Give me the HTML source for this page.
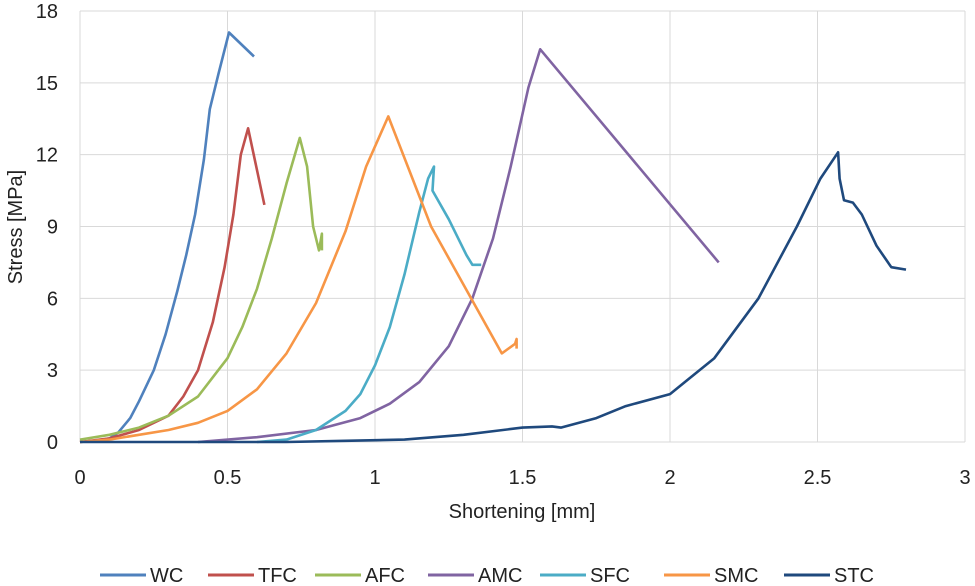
<!DOCTYPE html>
<html><head><meta charset="utf-8"><style>
body{margin:0;background:#fff;}
svg{display:block;font-family:"Liberation Sans",sans-serif;}
</style></head><body>
<svg id="chart" width="975" height="586" viewBox="0 0 975 586">
<g id="grid"></g><g id="series"></g><g id="ticks"></g><g id="legend"></g>
<text x="522" y="518" text-anchor="middle" font-size="20" fill="#222">Shortening [mm]</text>
<text transform="translate(22,227) rotate(-90)" text-anchor="middle" font-size="20" fill="#222">Stress [MPa]</text>
</svg>
<script>
const xTicks=[0,0.5,1,1.5,2,2.5,3];
const xTickLabels=["0","0.5","1","1.5","2","2.5","3"];
const yTicks=[0,3,6,9,12,15,18];
const seriesNames=["WC","TFC","AFC","AMC","SFC","SMC","STC"];
const seriesColors=["#4F81BD","#C0504D","#9BBB59","#8064A2","#4BACC6","#F79646","#1F497D"];
const WC=[[0,0],[0.05,0.05],[0.1,0.15],[0.13,0.4],[0.17,1],[0.2,1.7],[0.25,3],[0.29,4.5],[0.33,6.3],[0.36,7.8],[0.39,9.5],[0.42,11.8],[0.44,13.9],[0.47,15.4],[0.505,17.1],[0.59,16.1]];
const TFC=[[0,0],[0.1,0.15],[0.2,0.5],[0.3,1.1],[0.35,1.9],[0.4,3],[0.45,5],[0.49,7.3],[0.52,9.5],[0.545,12],[0.57,13.1],[0.625,9.9]];
const AFC=[[0,0.1],[0.1,0.3],[0.2,0.6],[0.3,1.1],[0.4,1.9],[0.5,3.5],[0.55,4.8],[0.6,6.4],[0.65,8.5],[0.7,10.8],[0.745,12.7],[0.77,11.5],[0.79,9],[0.81,8],[0.82,8.7],[0.82,8]];
const AMC=[[0.4,0],[0.6,0.2],[0.8,0.5],[0.95,1],[1.05,1.6],[1.15,2.5],[1.25,4],[1.33,6],[1.4,8.5],[1.46,11.5],[1.52,14.8],[1.56,16.4],[2.165,7.5]];
const SFC=[[0.6,0],[0.7,0.1],[0.8,0.5],[0.9,1.3],[0.95,2],[1.0,3.2],[1.05,4.8],[1.1,7],[1.15,9.6],[1.18,11],[1.2,11.5],[1.195,10.5],[1.25,9.3],[1.31,7.8],[1.33,7.4],[1.36,7.4]];
const SMC=[[0,0],[0.1,0.1],[0.2,0.3],[0.3,0.5],[0.4,0.8],[0.5,1.3],[0.6,2.2],[0.7,3.7],[0.8,5.8],[0.9,8.8],[0.97,11.5],[1.045,13.6],[1.19,9],[1.43,3.7],[1.475,4.1],[1.48,4.3],[1.48,3.9]];
const STC=[[0,0],[0.7,0],[0.9,0.05],[1.1,0.1],[1.3,0.3],[1.5,0.6],[1.6,0.65],[1.63,0.6],[1.75,1],[1.85,1.5],[2.0,2],[2.15,3.5],[2.3,6],[2.43,9],[2.51,11],[2.57,12.1],[2.575,11],[2.59,10.1],[2.62,10],[2.65,9.5],[2.7,8.2],[2.75,7.3],[2.8,7.2]];
const seriesData=[WC,TFC,AFC,AMC,SFC,SMC,STC];
const X0=80,X1=965,Y0=442,Y1=11;
const sx=v=>X0+v/3*(X1-X0), sy=v=>Y0-v/18*(Y0-Y1);
const NS="http://www.w3.org/2000/svg";
function mk(tag,attrs,parent,text){const e=document.createElementNS(NS,tag);for(const k in attrs)e.setAttribute(k,attrs[k]);if(text!==undefined)e.textContent=text;parent.appendChild(e);return e;}
const grid=document.getElementById('grid'),ticks=document.getElementById('ticks'),ser=document.getElementById('series'),leg=document.getElementById('legend');
yTicks.forEach(v=>{const l=mk('line',{x1:X0,x2:X1,y1:sy(v),y2:sy(v),stroke:'#d9d9d9','stroke-width':1},grid);


const t=mk('text',{x:X0-22,y:sy(v)+7,'text-anchor':'end','font-size':20,fill:'#222'},ticks,String(v));

});
xTicks.forEach((v,i)=>{const l=mk('line',{x1:sx(v),x2:sx(v),y1:Y1,y2:Y0,stroke:'#d9d9d9','stroke-width':1},grid);


const t=mk('text',{x:sx(v),y:484,'text-anchor':'middle','font-size':20,fill:'#222'},ticks,xTickLabels[i]);

});
seriesData.forEach((d,i)=>{const p=mk('polyline',{points:d.map(q=>sx(q[0]).toFixed(1)+','+sy(q[1]).toFixed(1)).join(' '),fill:'none',stroke:seriesColors[i],'stroke-width':2.6,'stroke-linejoin':'round'},ser);

});
const legX=[100,208,315,428,540,664,784];
seriesNames.forEach((n,i)=>{const g=mk('g',{},leg);


mk('line',{x1:legX[i],x2:legX[i]+46,y1:575,y2:575,stroke:seriesColors[i],'stroke-width':3},g);
mk('text',{x:legX[i]+50,y:582,'font-size':20,fill:'#222'},g,n);});
</script>
</body></html>
